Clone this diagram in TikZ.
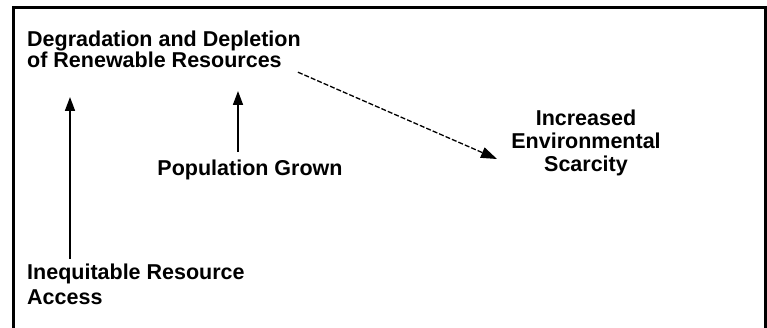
\documentclass[tikz,border=0pt]{standalone}
\usepackage{fontspec}
\setmainfont{Liberation Sans}
\usetikzlibrary{arrows.meta}
\begin{document}
\begin{tikzpicture}[x=1pt,y=-1pt,
  lbl/.style={inner sep=0pt, font=\bfseries\fontsize{21.5}{21}\selectfont},
  lblwide/.style={inner sep=0pt, font=\bfseries\fontsize{21.5}{25}\selectfont},
  lblmid/.style={inner sep=0pt, font=\bfseries\fontsize{21.5}{23}\selectfont},
  arr/.style={line width=1.6pt, -{Triangle[length=14pt,width=10pt]}},
  darr/.style={line width=1.3pt, dash pattern=on 5pt off 2pt, -{Triangle[length=16pt,width=11pt]}},
  frame/.style={line width=3pt}
]
\useasboundingbox (0,0) rectangle (767,328);
\draw[frame] (13,330) -- (13,8) -- (765,8) -- (765,330);

\node[lbl, anchor=north west, align=left] (deg) at (27,31)
  {Degradation and Depletion\\of Renewable Resources};
\node[lbl, anchor=base] (pop) at (250,176) {Population Grown};
\node[lblwide, anchor=north west, align=left] (inq) at (27,264)
  {Inequitable Resource\\Access};
\node[lblmid, anchor=north, align=center] (inc) at (586,110)
  {Increased\\Environmental\\Scarcity};

\coordinate (tip1) at (70,97);
\coordinate (tip2) at (238,91);
\coordinate (tip3) at (497,159);

\draw[arr] ([xshift=43pt,yshift=5pt]inq.north west) -- (tip1);
\draw[arr] ([xshift=-12pt,yshift=8pt]pop.north) -- (tip2);
\draw[darr] ([xshift=-3pt,yshift=-4pt]deg.south east) -- (tip3);
\end{tikzpicture}
\end{document}
